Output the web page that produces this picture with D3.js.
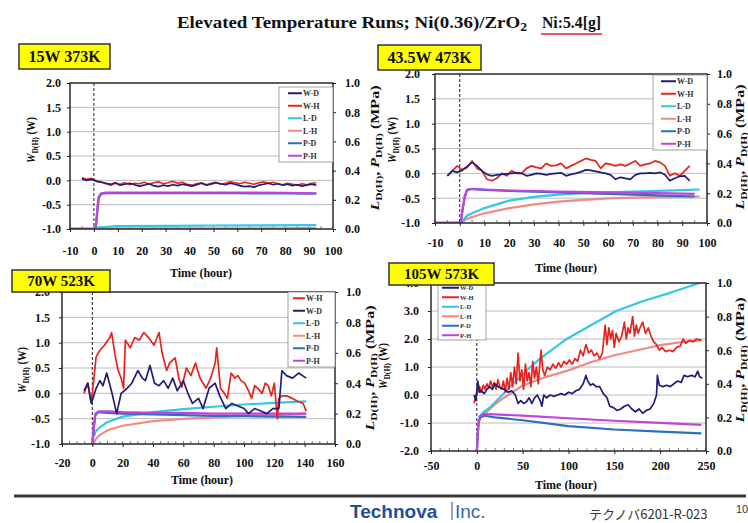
<!DOCTYPE html>
<html>
<head>
<meta charset="utf-8">
<script src="https://cdn.jsdelivr.net/npm/d3@7"></script>
<style>
  body { margin: 0; background: #fff; }
  svg { display: block; font-family: "Liberation Serif", "Times New Roman", serif; }
</style>
</head>
<body>
<svg id="chart" width="748" height="523"></svg>
<script>
// ---------- data ----------
// panels 1 and 2 share this time grid for the W series (hours)
const timeGrid12 = [-5,-3,-1,1,3,5,7,9,11,13,15,17,19,21,23,25,27,29,31,33,35,37,39,41,43,45,47,49,51,53,55,57,59,61,63,65,67,69,71,73,75,77,79,81,83,85,87,89,91,93];

// panel 1 : 15W 373K
const p1WD = [0.03,0.0,0.02,-0.02,-0.04,-0.06,-0.08,-0.05,-0.1,-0.08,-0.06,-0.09,-0.12,-0.1,-0.07,-0.11,-0.13,-0.1,-0.12,-0.09,-0.11,-0.08,-0.1,-0.12,-0.09,-0.06,-0.1,-0.08,-0.05,-0.07,-0.09,-0.06,-0.08,-0.11,-0.13,-0.12,-0.14,-0.1,-0.08,-0.06,-0.09,-0.07,-0.1,-0.08,-0.11,-0.09,-0.12,-0.1,-0.08,-0.1];
const p1WH = [0.05,0.02,0.04,-0.01,-0.03,-0.07,-0.1,-0.06,-0.08,-0.05,-0.09,-0.06,-0.07,-0.04,-0.08,-0.05,-0.03,-0.07,-0.05,-0.02,-0.06,-0.04,-0.08,-0.1,-0.07,-0.05,-0.09,-0.06,-0.04,-0.08,-0.06,-0.03,-0.05,-0.07,-0.04,-0.06,-0.08,-0.05,-0.03,-0.06,-0.04,-0.07,-0.09,-0.06,-0.08,-0.1,-0.07,-0.09,-0.06,-0.05];
const p1PD = [[-10,0],[0.5,0],[1,0.04],[1.5,0.13],[2,0.21],[3,0.24],[5,0.245],[20,0.245],[40,0.245],[60,0.245],[80,0.244],[93,0.242]];
const p1PH = [[-10,0.002],[0.5,0.002],[1,0.05],[1.5,0.15],[2,0.22],[3,0.245],[5,0.25],[20,0.25],[40,0.25],[60,0.25],[80,0.248],[93,0.245]];
const p1LD = [[1,0.01],[10,0.02],[30,0.022],[50,0.024],[70,0.025],[93,0.027]];
const p1LH = [[1,0.0],[10,0.003],[30,0.004],[50,0.005],[70,0.005],[93,0.006]];

// panel 2 : 43.5W 473K
const p2WD = [-0.05,0.05,0.02,0.06,0.14,0.22,0.15,0.05,-0.02,-0.05,-0.03,-0.02,-0.01,0.0,0.01,0.0,-0.05,-0.03,0.0,-0.01,-0.03,-0.01,0.0,0.01,-0.05,-0.02,0.0,0.03,0.07,0.06,0.04,0.02,0.0,-0.03,-0.12,-0.08,-0.1,-0.12,-0.03,0.0,0.0,0.01,0.0,0.02,-0.03,-0.15,-0.1,-0.06,-0.05,-0.15];
const p2WH = [-0.05,0.05,0.15,0.07,0.12,0.25,0.1,0.05,-0.12,-0.15,-0.1,0.0,-0.05,0.05,0.0,0.0,0.1,0.15,0.12,0.1,0.2,0.15,0.16,0.2,0.1,0.15,0.2,0.25,0.3,0.27,0.25,0.1,0.2,0.18,0.15,0.18,0.15,0.2,0.25,0.15,0.18,0.2,0.25,0.22,0.15,-0.05,0.0,-0.05,0.05,0.15];
const p2PD = [[-10,0],[0.5,0],[1,0.07],[2,0.17],[3,0.22],[5,0.228],[10,0.222],[20,0.215],[40,0.205],[60,0.195],[80,0.185],[95,0.178]];
const p2PH = [[-10,0.002],[0.5,0.002],[1,0.08],[2,0.18],[3,0.225],[5,0.23],[10,0.225],[20,0.218],[40,0.21],[60,0.205],[80,0.2],[95,0.195]];
const p2LD = [[1,0],[2,0.03],[3,0.05],[5,0.065],[10,0.1],[20,0.15],[30,0.175],[40,0.19],[50,0.2],[60,0.205],[70,0.21],[80,0.215],[90,0.22],[97,0.225]];
const p2LH = [[1,0],[2,0.02],[3,0.03],[5,0.04],[10,0.065],[20,0.1],[30,0.125],[40,0.143],[50,0.155],[60,0.165],[70,0.17],[80,0.173],[90,0.176],[97,0.178]];

// panel 3 : 70W 523K  ([hour, value])
const p3WH = [[-5.5,0.0],[-3,0.2],[-1,-0.15],[0,0.0],[2.5,0.72],[5,0.85],[8,0.95],[11.5,1.1],[12.7,1.2],[15,0.75],
  [17,0.45],[19,0.3],[20.6,0.1],[21.8,1.05],[25,0.9],[28,1.1],[31,1.05],[34,1.2],[37,1.1],[40.7,0.95],
  [44,1.2],[46,0.8],[49,0.45],[51,0.6],[54.6,0.7],[57,0.3],[59,0.12],[62,0.5],[65,0.35],[68,0.6],
  [71,0.3],[75,0.1],[78,0.3],[81,0.6],[82,0.9],[84.5,0.1],[87,0.0],[89,-0.1],[91.5,0.4],[94,0.3],
  [96,0.35],[98,0.25],[100.5,0.2],[103,0.05],[105,-0.1],[107,0.15],[109,0.1],[112,0.0],[114,0.2],[116,0.15],
  [118,-0.05],[120,0.2],[122,-0.5],[123,-0.1],[125,-0.05],[128,-0.05],[132,-0.1],[135,-0.15],[139,-0.2],[141,-0.35]];
const p3WD = [[-5.5,0.05],[-3,0.2],[-0.7,-0.2],[2.5,0.1],[5,0.25],[7,0.15],[9.5,0.4],[13,0.0],[16,-0.4],[19,0.0],
  [23,0.1],[26,0.2],[30,0.45],[33,0.3],[35,0.25],[38,0.55],[41,0.2],[44,0.15],[47,0.25],[50,0.1],
  [53,0.3],[56,0.05],[60,0.25],[63,0.0],[66,-0.2],[70,-0.1],[73,-0.3],[77,0.1],[81,0.2],[84,-0.05],
  [88,-0.3],[92,-0.2],[96,-0.25],[100,-0.3],[103,-0.4],[107,-0.3],[111,-0.35],[115,-0.4],[119,-0.3],[123,-0.3],
  [125,0.45],[128,0.35],[132,0.3],[136,0.4],[141,0.3]];
const p3PD = [[0,0],[1,0.11],[2,0.19],[4,0.21],[10,0.205],[20,0.2],[40,0.195],[60,0.19],[80,0.185],[100,0.183],[120,0.18],[141,0.178]];
const p3PH = [[0,0],[1,0.12],[2,0.2],[4,0.215],[10,0.215],[20,0.21],[40,0.205],[60,0.205],[80,0.2],[100,0.2],[120,0.2],[141,0.2]];
const p3LD = [[1,0.05],[2,0.08],[5,0.11],[10,0.145],[20,0.18],[40,0.21],[60,0.23],[80,0.245],[100,0.26],[120,0.27],[141,0.28]];
const p3LH = [[1,0.0],[2,0.03],[5,0.06],[10,0.09],[20,0.12],[40,0.15],[60,0.165],[80,0.175],[100,0.185],[120,0.19],[141,0.2]];

// panel 4 : 105W 573K
const p4WH = [[-3,-0.3],[-1,0.0],[1,0.1],[3,0.3],[5,0.1],[7,0.35],[9,0.2],[11,0.4],[13,0.25],[15,0.5],
  [17,0.3],[19,0.45],[21,0.2],[23,0.55],[25,0.3],[27,0.2],[29,0.5],[31,0.1],[33,0.6],[35,0.2],
  [37,0.8],[39,0.3],[41,1.0],[43,0.4],[45,1.5],[47,0.5],[49,0.9],[51,0.2],[53,1.1],[55,0.5],
  [57,0.8],[59,0.3],[61,1.2],[63,0.6],[65,1.0],[67,0.4],[69,1.2],[70,1.6],[72,0.9],[74,0.7],
  [77,1.0],[80,0.9],[83,1.1],[86,0.95],[89,1.15],[92,1.0],[95,1.2],[98,1.1],[101,1.25],[104,1.1],
  [107,1.3],[110,1.2],[113,1.6],[116,1.4],[119,1.8],[122,1.5],[125,1.6],[128,1.4],[131,1.5],[134,1.3],
  [137,1.5],[140,2.5],[142,1.8],[144,2.4],[146,2.0],[148,2.3],[150,1.7],[152,2.2],[155,1.9],[158,2.1],
  [161,2.6],[163,2.0],[165,2.4],[167,2.2],[170,2.8],[172,2.1],[174,2.5],[176,2.2],[178,2.4],[181,2.6],
  [184,2.2],[187,2.4],[190,2.1],[193,1.9],[196,1.8],[199,1.6],[202,1.7],[206,1.55],[210,1.6],[214,1.55],
  [218,1.7],[222,1.75],[225,2.0],[228,1.85],[232,1.95],[236,1.9],[240,2.0],[245,1.95]];
const p4WD = [[-3,0.0],[-1,-0.2],[1,0.5],[3,0.1],[5,0.15],[8,0.05],[11,0.2],[14,0.3],[17,0.2],[20,0.4],
  [23,0.3],[26,0.25],[30,0.2],[34,0.1],[38,0.15],[42,0.0],[45,-0.3],[48,-0.2],[51,-0.3],[54,-0.25],
  [57,-0.1],[60,-0.3],[63,-0.1],[66,0.0],[69,-0.2],[71,-0.4],[73,0.0],[76,-0.1],[80,0.0],[84,-0.05],
  [88,0.0],[92,0.05],[96,0.0],[100,0.1],[104,0.05],[108,0.15],[112,0.2],[116,0.4],[119,0.7],[121,0.5],
  [124,0.35],[127,0.4],[130,0.3],[134,0.3],[138,0.05],[142,-0.1],[145,-0.4],[149,-0.45],[153,-0.55],[157,-0.5],
  [161,-0.4],[165,-0.35],[169,-0.5],[173,-0.6],[177,-0.5],[181,-0.65],[185,-0.55],[189,-0.5],[193,-0.3],[196,0.0],
  [197,0.7],[199,0.35],[203,0.3],[207,0.35],[211,0.3],[215,0.4],[219,0.5],[223,0.45],[226,0.7],[230,0.65],
  [234,0.7],[238,0.65],[241,0.85],[243,0.65],[246,0.6]];
const p4PD = [[0,0],[1,0.09],[2,0.17],[4,0.2],[8,0.21],[20,0.2],[50,0.183],[100,0.148],[150,0.128],[200,0.115],[245,0.105]];
const p4PH = [[0,0],[1,0.1],[2,0.18],[4,0.21],[8,0.22],[20,0.218],[50,0.21],[100,0.195],[150,0.18],[200,0.167],[245,0.155]];
const p4LD = [[2,0.2],[8,0.235],[15,0.263],[26,0.323],[40,0.403],[55,0.482],[69,0.55],[98,0.667],[125,0.75],[152,0.833],[180,0.89],[210,0.94],[243,1.0],[250,1.01]];
const p4LH = [[2,0.2],[5,0.21],[10,0.23],[18,0.27],[25,0.3],[50,0.39],[75,0.44],[100,0.48],[125,0.53],[150,0.57],[175,0.6],[200,0.63],[225,0.65],[245,0.66]];

// ticks and labels
const xTicks12 = [-10,0,10,20,30,40,50,60,70,80,90,100];
const xTicks3 = [-20,0,20,40,60,80,100,120,140,160];
const xTicks4 = [-50,0,50,100,150,200,250];
const yTicksW = [-1.0,-0.5,0.0,0.5,1.0,1.5,2.0];
const yTicksW4 = [-2,-1,0,1,2,3,4];
const yTicksP = [0.0,0.2,0.4,0.6,0.8,1.0];
const legendA = ['W-D','W-H','L-D','L-H','P-D','P-H'];
const legendB = ['W-H','W-D','L-D','L-H','P-D','P-H'];
const panelNames = ['15W 373K','43.5W 473K','70W 523K','105W 573K'];

const colors = { 'W-D': '#1e1e78', 'W-H': '#e8231e', 'L-D': '#33c6e8', 'L-H': '#f28a82', 'P-D': '#2c6fc4', 'P-H': '#c441dc' };
const serif = '"Liberation Serif", "Times New Roman", serif';

const zip = (t, v) => d3.zip(t, v);

const panels = [
  { plot: [70, 83, 333, 229], xDomain: [-10, 100], yDomain: [-1, 2], xTicks: xTicks12, yTicks: yTicksW, minor: 22,
    xPad: 17, lPad: 9, rPad: 12, xTitle: [201, 277], lTitle: [35, 140], rTitle: [379, 148],
    legend: { x: 279, y: 87, w: 54, h: 75, l0: 9, l1: 23, fs: 8 }, order: legendA,
    box: [19, 44, 91, 25, 16],
    series: { 'W-D': zip(timeGrid12, p1WD), 'W-H': zip(timeGrid12, p1WH), 'L-D': p1LD, 'L-H': p1LH, 'P-D': p1PD, 'P-H': p1PH } },
  { plot: [435, 74, 707, 223], xDomain: [-10, 100], yDomain: [-1, 2], xTicks: xTicks12, yTicks: yTicksW, minor: 22,
    xPad: 15, lPad: 15, rPad: 10, xTitle: [566, 272], lTitle: [396, 140], rTitle: [744, 147],
    legend: { x: 653, y: 75, w: 54, h: 75, l0: 8, l1: 23, fs: 8 }, order: legendA,
    box: [378, 45, 103, 25, 16],
    series: { 'W-D': zip(timeGrid12, p2WD), 'W-H': zip(timeGrid12, p2WH), 'L-D': p2LD, 'L-H': p2LH, 'P-D': p2PD, 'P-H': p2PH } },
  { plot: [62, 292, 335, 444], xDomain: [-20, 160], yDomain: [-1, 2], xTicks: xTicks3, yTicks: yTicksW, minor: 36,
    xPad: 14, lPad: 12, rPad: 11, xTitle: [202, 484], lTitle: [26, 370], rTitle: [374, 368],
    legend: { x: 288, y: 292, w: 47, h: 75, l0: 5, l1: 17, fs: 8 }, order: legendB,
    box: [12, 270, 98, 22, 15],
    series: { 'W-D': p3WD, 'W-H': p3WH, 'L-D': p3LD, 'L-H': p3LH, 'P-D': p3PD, 'P-H': p3PH } },
  { plot: [431, 283, 706, 451], xDomain: [-50, 250], yDomain: [-2, 4], xTicks: xTicks4, yTicks: yTicksW4, minor: 30,
    xPad: 10, lPad: 12, rPad: 11, xTitle: [566, 489], lTitle: [387, 366], rTitle: [744, 360],
    legend: { x: 438, y: 283, w: 48, h: 57, l0: 4, l1: 21, fs: 6.5 }, order: legendA,
    box: [389, 263, 105, 22, 15],
    series: { 'W-D': p4WD, 'W-H': p4WH, 'L-D': p4LD, 'L-H': p4LH, 'P-D': p4PD, 'P-H': p4PH } }
];

const svg = d3.select('#chart');

// rich text with italic letters and subscripts
function rich(text, parts) {
  let shifted = false;
  parts.forEach(p => {
    const s = text.append('tspan').text(p.t);
    if (p.i) s.attr('font-style', 'italic');
    if (p.sub) { s.attr('font-size', '72%').attr('dy', 3); shifted = true; }
    else if (shifted) { s.attr('dy', -3); shifted = false; }
  });
}
const wTitle = [{ t: 'W', i: true }, { t: 'D(H)', sub: true }, { t: '  (W)' }];
const lpTitle = [{ t: 'L', i: true }, { t: 'D(H)', sub: true }, { t: ', ' }, { t: 'P', i: true }, { t: 'D(H)', sub: true }, { t: '  (MPa)' }];

function vTitle(x, y, parts, len) {
  const t = svg.append('text')
    .attr('transform', `translate(${x},${y}) rotate(-90)`)
    .attr('text-anchor', 'middle')
    .attr('font-family', serif)
    .attr('font-size', 11.5)
    .attr('font-weight', 'bold')
    .attr('fill', '#111');
  rich(t, parts);
  t.attr('textLength', len).attr('lengthAdjust', 'spacingAndGlyphs');
}

function styleAxis(sel) {
  sel.select('.domain').remove();
  sel.attr('font-family', serif).attr('font-size', 12).attr('font-weight', 'bold');
  sel.selectAll('text').attr('fill', '#111').attr('font-family', serif);
  sel.selectAll('line').attr('stroke', '#222');
}

const drawOrder = ['L-H', 'L-D', 'P-D', 'P-H', 'W-H', 'W-D'];

panels.forEach((p, i) => {
  const [L, T, R, B] = p.plot;
  const x = d3.scaleLinear().domain(p.xDomain).range([L, R]);
  const yL = d3.scaleLinear().domain(p.yDomain).range([B, T]);
  const yR = d3.scaleLinear().domain([0, 1]).range([B, T]);
  const g = svg.append('g');

  g.append('clipPath').attr('id', 'clip' + i)
    .append('rect').attr('x', L).attr('y', T).attr('width', R - L).attr('height', B - T);

  g.append('rect').attr('x', L).attr('y', T).attr('width', R - L).attr('height', B - T).attr('fill', '#fff');

  // horizontal grid lines
  g.append('g').selectAll('line')
    .data(p.yTicks.slice(1, -1))
    .join('line')
    .attr('x1', L).attr('x2', R)
    .attr('y1', d => yL(d)).attr('y2', d => yL(d))
    .attr('stroke', '#a8a8a8').attr('stroke-width', 0.8);

  // minor ticks inside the bottom axis
  g.append('g').selectAll('line')
    .data(x.ticks(p.minor))
    .join('line')
    .attr('x1', d => x(d)).attr('x2', d => x(d))
    .attr('y1', B).attr('y2', B - 3)
    .attr('stroke', '#444').attr('stroke-width', 0.7);

  // start of run
  g.append('line')
    .attr('x1', x(0)).attr('x2', x(0)).attr('y1', T).attr('y2', B)
    .attr('stroke', '#222').attr('stroke-width', 1).attr('stroke-dasharray', '3,2');

  const plotG = g.append('g').attr('clip-path', `url(#clip${i})`);
  drawOrder.forEach(key => {
    const y = key[0] === 'W' ? yL : yR;
    plotG.append('path')
      .datum(p.series[key])
      .attr('d', d3.line().x(d => x(d[0])).y(d => y(d[1])))
      .attr('fill', 'none')
      .attr('stroke', colors[key])
      .attr('stroke-width', key[0] === 'W' ? 1.7 : 2.2)
      .attr('stroke-linejoin', 'round');
  });

  g.append('rect').attr('x', L).attr('y', T).attr('width', R - L).attr('height', B - T)
    .attr('fill', 'none').attr('stroke', '#2a2a2a').attr('stroke-width', 1.5);

  g.append('g').attr('transform', `translate(0,${B})`)
    .call(d3.axisBottom(x).tickValues(p.xTicks).tickSize(3).tickPadding(p.xPad - 3).tickFormat(d => String(d)))
    .call(styleAxis);
  g.append('g').attr('transform', `translate(${L},0)`)
    .call(d3.axisLeft(yL).tickValues(p.yTicks).tickSize(3).tickPadding(p.lPad - 3).tickFormat(d => d.toFixed(1)))
    .call(styleAxis);
  g.append('g').attr('transform', `translate(${R},0)`)
    .call(d3.axisRight(yR).tickValues(yTicksP).tickSize(3).tickPadding(p.rPad - 3).tickFormat(d => d.toFixed(1)))
    .call(styleAxis);

  // axis titles
  g.append('text')
    .attr('x', p.xTitle[0]).attr('y', p.xTitle[1])
    .attr('text-anchor', 'middle').attr('font-size', 12).attr('font-weight', 'bold').attr('fill', '#111')
    .text('Time (hour)');
  vTitle(p.lTitle[0], p.lTitle[1], wTitle, 46);
  vTitle(p.rTitle[0], p.rTitle[1], lpTitle, 125);

  // legend
  const lg = p.legend;
  const leg = g.append('g');
  leg.append('rect').attr('x', lg.x).attr('y', lg.y).attr('width', lg.w).attr('height', lg.h)
    .attr('fill', '#fff').attr('stroke', '#8a8a8a').attr('stroke-width', 0.8);
  p.order.forEach((k, j) => {
    const cy = lg.y + lg.h / 6 * (j + 0.5);
    leg.append('line')
      .attr('x1', lg.x + lg.l0).attr('x2', lg.x + lg.l1).attr('y1', cy).attr('y2', cy)
      .attr('stroke', colors[k]).attr('stroke-width', 2);
    leg.append('text')
      .attr('x', lg.x + lg.l1 + 1).attr('y', cy).attr('dy', '0.35em')
      .attr('font-size', lg.fs).attr('font-weight', 'bold').attr('fill', '#333')
      .text(k);
  });
});

// yellow run labels, on top of everything
panels.forEach((p, i) => {
  const [bx, by, bw, bh, fs] = p.box;
  svg.append('rect').attr('x', bx).attr('y', by).attr('width', bw).attr('height', bh)
    .attr('fill', '#ffff00').attr('stroke', '#333').attr('stroke-width', 1.5);
  svg.append('text')
    .attr('x', bx + bw / 2).attr('y', by + bh / 2).attr('dy', '0.36em')
    .attr('text-anchor', 'middle').attr('font-size', fs).attr('font-weight', 'bold').attr('fill', '#111')
    .text(panelNames[i]);
});

// title
const title = svg.append('text')
  .attr('x', 177).attr('y', 28)
  .attr('font-size', 17).attr('font-weight', 'bold').attr('fill', '#111')
  .attr('textLength', 350).attr('lengthAdjust', 'spacingAndGlyphs');
rich(title, [{ t: 'Elevated Temperature Runs; Ni(0.36)/ZrO' }, { t: '2', sub: true }]);
svg.append('text')
  .attr('x', 542).attr('y', 28)
  .attr('font-size', 17).attr('font-weight', 'bold').attr('fill', '#111')
  .attr('textLength', 59).attr('lengthAdjust', 'spacingAndGlyphs')
  .text('Ni:5.4[g]');
svg.append('line').attr('x1', 541).attr('x2', 602).attr('y1', 34).attr('y2', 34)
  .attr('stroke', '#e02020').attr('stroke-width', 1.5);

// footer
svg.append('line').attr('x1', 14).attr('x2', 746).attr('y1', 496).attr('y2', 496)
  .attr('stroke', '#3c3c3c').attr('stroke-width', 3);
svg.append('text').attr('x', 350).attr('y', 518)
  .attr('font-family', '"Liberation Sans", Arial, sans-serif').attr('font-size', 19).attr('font-weight', 'bold')
  .attr('fill', '#1f4f97').text('Technova');
svg.append('line').attr('x1', 452).attr('x2', 452).attr('y1', 502).attr('y2', 520)
  .attr('stroke', '#1f4f97').attr('stroke-width', 1);
svg.append('text').attr('x', 455).attr('y', 518)
  .attr('font-family', '"Liberation Sans", Arial, sans-serif').attr('font-size', 19)
  .attr('fill', '#3467b0').text('Inc.');
svg.append('text').attr('x', 589).attr('y', 519)
  .attr('font-family', '"Noto Sans CJK JP", sans-serif').attr('font-size', 13)
  .attr('fill', '#333').text('テクノバ6201-R-023');
svg.append('text').attr('x', 736).attr('y', 513)
  .attr('font-family', '"Liberation Sans", Arial, sans-serif').attr('font-size', 11)
  .attr('fill', '#333').text('10');
</script>
</body>
</html>
